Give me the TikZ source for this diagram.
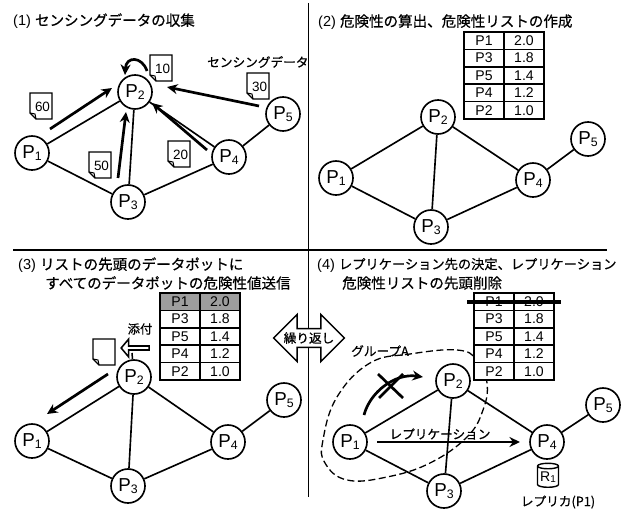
\documentclass[tikz,border=0pt]{standalone}
\usepackage{fontspec}
\setmainfont{Liberation Sans}
\newfontfamily\jp[FakeBold=0.6]{Noto Sans CJK JP}
\usetikzlibrary{arrows.meta,shapes.arrows,shapes.geometric}
\newcommand{\pname}[1]{\fontsize{16}{16}\selectfont P\raisebox{-2pt}{\fontsize{10.5}{10.5}\selectfont #1}}
\tikzset{
    peer/.style={draw, circle, line width=1.4pt, fill=white, minimum size=1.02cm, inner sep=0pt},
    link/.style={line width=1.4pt},
    flow/.style={line width=2.3pt, -{Stealth[length=9pt,width=8.5pt]}},
    cell/.style={draw, line width=1.5pt, fill=white, minimum width=1.2cm, minimum height=0.522cm, inner sep=0pt, font=\fontsize{12}{12}\selectfont},
    note/.style={line width=1.2pt, fill=white},
    title/.style={anchor=west, inner sep=0pt, font=\fontsize{12.4}{12.4}\selectfont},
    small/.style={inner sep=0pt, font=\fontsize{10.8}{10.8}\selectfont\jp}
}
\begin{document}
\begin{tikzpicture}[x=0.03cm, y=-0.03cm]
    \useasboundingbox (0,0) rectangle (629,510);

    % Panel titles
    \node[title] (title1) at (13,21) {(1) {\jp センシングデータの収集}};
    \node[title] (title2) at (318,22) {(2) {\jp 危険性の算出、危険性リストの作成}};
    \node[title] (title3) at (18,265) {(3) {\jp リストの先頭のデータポットに}};
    \node[title] (title3b) at (45,283) {\jp すべてのデータポットの危険性値送信};
    \node[title] (title4) at (317,265) {(4) {\fontsize{11.3}{11.3}\selectfont\jp レプリケーション先の決定、レプリケーション}};
    \node[title] (title4b) at (342,283) {\jp 危険性リストの先頭削除};

    % Dividing lines
    \draw[line width=1.3pt] (13,250) -- (607,250);
    \draw[line width=1.1pt] (308.5,3) -- (308.5,497);

    % Group around P1 and P2
    \draw[line width=1.1pt, dash pattern=on 6pt off 3pt] plot[smooth cycle, tension=0.7] coordinates
        {(410,354) (457,350) (477,360) (487,383) (483,410) (467,437) (430,463) (387,477) (347,480) (325,463) (323,440) (337,397) (370,363)};

    % The peers of all four panels
    \foreach \g/\i/\x/\y in {a/1/32/153, a/2/135/92, a/3/128/202, a/4/229/157, a/5/283/114,
                             b/1/336/178, b/2/438/117, b/3/431/227, b/4/533/180, b/5/588/139,
                             c/1/32/441, c/2/134/377, c/3/128/486, c/4/228/442, c/5/284/400,
                             d/1/350/442, d/2/453/381, d/3/444/491, d/4/547/442, d/5/603/405}
        \node[peer] (\g\i) at (\x,\y) {\pname{\i}};
    \foreach \g in {a,b,c,d}
        \foreach \u/\v in {1/2, 1/3, 2/3, 2/4, 3/4, 4/5}
            \draw[link] (\g\u) -- (\g\v);

    % Lists of peers
    \foreach \g/\tx/\ty in {b/464/32, c/160/293, d/474/293}
        \foreach \i/\pp/\vv in {0/P1/2.0, 1/P3/1.8, 2/P5/1.4, 3/P4/1.2, 4/P2/1.0} {
            \node[cell] (\g l\i) at (\tx+20, \ty+8.7+17.4*\i) {\pp};
            \node[cell] (\g r\i) at (\tx+60, \ty+8.7+17.4*\i) {\vv};
        }
    \node[cell, fill=black!38] (cl0) at (180,301.7) {P1};
    \node[cell, fill=black!38] (cr0) at (220,301.7) {2.0};

    % Notes with sensing data
    \foreach \x/\y/\val in {30/93/60, 150/55/10, 247/73/30, 168/141/20, 89/152/50, 93/339/{}} {
        \draw[note] (\x,\y) -- (\x+22,\y) -- (\x+22,\y+26) -- (\x+6,\y+26) -- (\x,\y+20) -- cycle;
        \draw[line width=0.9pt] (\x,\y+20) -- (\x+5,\y+21) -- (\x+6,\y+26);
        \node[inner sep=0pt, font=\fontsize{11.5}{11.5}\selectfont] (val\x) at (\x+12.5,\y+13.5) {\val};
    }

    % Panel 1: data goes to P2
    \coordinate (from1) at (50,129);   \coordinate (to1) at (112,88);
    \coordinate (from3) at (118,178);  \coordinate (to3) at (126,112);
    \coordinate (from4) at (207,150);  \coordinate (to4) at (152,103);
    \coordinate (from5) at (259,106);  \coordinate (to5) at (167,87);
    \coordinate (from2) at (147,71);   \coordinate (to2) at (125,75);
    \draw[flow] (from1) -- (to1);
    \draw[flow] (from3) -- (to3);
    \draw[flow] (from4) -- (to4);
    \draw[flow] (from5) -- (to5);
    \draw[flow] (from2) .. controls (142,56) and (126,56) .. (to2);
    \node[small, anchor=west] (sensing) at (207,62) {センシングデータ};

    % Panel 3: P2 sends to P1
    \coordinate (send) at (108,374);
    \coordinate (recv) at (47,414);
    \draw[flow] (send) -- (recv);
    \node[draw, single arrow, shape border rotate=180, line width=1.3pt, fill=white, inner sep=0pt,
        minimum width=0.54cm, minimum height=0.84cm, single arrow head extend=0.08cm, single arrow tip angle=100] (attach) at (136,348) {};
    \coordinate (attachend) at (132,353);
    \draw[line width=1.3pt] (attachend) -- (c2);
    \node[small, font=\fontsize{10.5}{10.5}\selectfont\jp] (attachtext) at (140,329) {添付};

    % Repeat between panels 3 and 4
    \node[draw, double arrow, line width=1.3pt, fill=white, inner sep=0pt, minimum width=1.41cm, minimum height=1.92cm,
        double arrow head extend=0.3cm, font=\fontsize{10.8}{10.8}\selectfont\jp] (again) at (309,338) {繰り返し};

    % Panel 4
    \node[small] (group) at (380,351) {グループA};
    \coordinate (tryfrom) at (364,415);
    \coordinate (tryto) at (423,377);
    \draw[flow] (tryfrom) .. controls (370,392) and (395,373) .. (tryto);
    \coordinate (xa) at (378,374);  \coordinate (xb) at (403,398);
    \coordinate (xc) at (403,374);  \coordinate (xd) at (379,398);
    \draw[line width=2.3pt] (xa) -- (xb);
    \draw[line width=2.3pt] (xc) -- (xd);
    \coordinate (strikea) at (467,302);
    \coordinate (strikeb) at (561,302);
    \draw[line width=2.6pt] (strikea) -- (strikeb);
    \coordinate (repfrom) at (377,442);
    \coordinate (repto) at (520,442);
    \draw[flow] (repfrom) -- (repto);
    \node[small] (reptext) at (440,434) {レプリケーション};
    \node[draw, cylinder, shape border rotate=90, aspect=0.35, line width=1.2pt, fill=white, inner sep=0pt,
        minimum width=0.63cm, minimum height=0.72cm, font=\fontsize{12}{12}\selectfont] (replica) at (548,477)
        {R\raisebox{-1pt}{\fontsize{8.5}{8.5}\selectfont 1}};
    \node[small] (replicatext) at (558,502) {レプリカ(P1)};
\end{tikzpicture}
\end{document}
